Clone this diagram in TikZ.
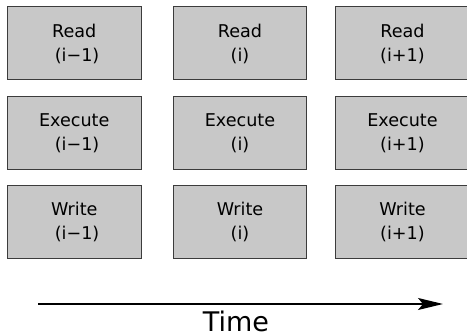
\documentclass[tikz,border=0pt]{standalone}
\usepackage{fontspec}
\setmainfont{DejaVu Sans}
\usetikzlibrary{arrows.meta}
\definecolor{boxfill}{HTML}{C8C8C8}
\definecolor{boxline}{HTML}{3C3C3C}
\tikzset{
  stage/.style={draw=boxline, fill=boxfill, line width=1pt,
    minimum width=133.5pt, minimum height=73pt, inner sep=0pt,
    align=center, font=\fontsize{17.6}{24}\selectfont},
  timearrow/.style={line width=1.3pt, -{Stealth[length=25pt, width=12pt, inset=5pt]}}
}
\begin{document}
\begin{tikzpicture}[x=1pt,y=1pt]
\useasboundingbox (0,0) rectangle (467,336);
% row 1
\node[stage] (r1) at (74.25,292.5) {Read\\\hspace*{5.6pt}(i−1)};
\node[stage] (r2) at (240,292.5) {Read\\(i)};
\node[stage] (r3) at (402.5,292.5) {Read\\(i+1)};
% row 2
\node[stage] (e1) at (74.25,202.5) {Execute\\\hspace*{5.6pt}(i−1)};
\node[stage] (e2) at (240,202.5) {Execute\\(i)};
\node[stage] (e3) at (402.5,202.5) {Execute\\(i+1)};
% row 3
\node[stage] (w1) at (74.25,114) {Write\\\hspace*{5.6pt}(i−1)};
\node[stage] (w2) at (240,114) {Write\\(i)};
\node[stage] (w3) at (402.5,114) {Write\\(i+1)};
% time arrow
\coordinate (tstart) at (38,32);
\coordinate (tend) at (443,32);
\draw[timearrow] (tstart) -- (tend);
\node[anchor=base, inner sep=0pt, font=\fontsize{27}{32}\selectfont] (time) at (236,4.5) {Time};
\end{tikzpicture}
\end{document}
